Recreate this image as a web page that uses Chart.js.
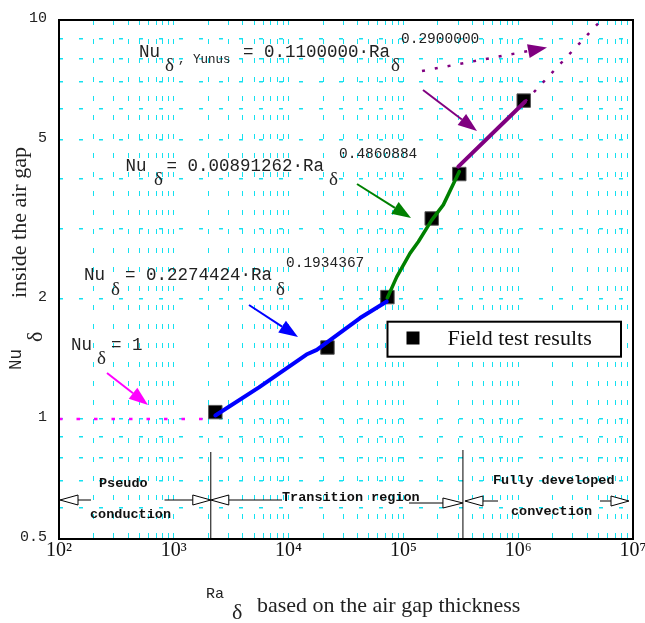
<!DOCTYPE html>
<html>
<head>
<meta charset="utf-8">
<script src="https://cdn.jsdelivr.net/npm/chart.js@4.4.1/dist/chart.umd.min.js"></script>
<style>
  html, body { margin: 0; padding: 0; background: #fff; }
  #wrap { width: 645px; height: 623px; }
</style>
</head>
<body>
<div id="wrap"><canvas id="c" width="645" height="623"></canvas></div>
<script>
// ---- data ----
const fieldRa = [2300, 21800, 72600, 176400, 306900, 1117000];
const fieldNu = [1.04, 1.51, 2.02, 3.18, 4.11, 6.28];

const conductionRa = [100, 2300];
const conductionNu = [1, 1];

const transitionRa = [2300, 5520, 14300, 17600, 41900, 71600];
const transitionNu = [1.02, 1.20, 1.45, 1.49, 1.79, 1.97];

const steepRa = [72400, 87500, 114100, 134900, 176400, 222700, 306900];
const steepNu = [2.01, 2.27, 2.60, 2.78, 3.15, 3.44, 4.17];

const yunusRa = [300800, 1146000];
const yunusNu = [4.29, 6.24];

const yunusExtRa = [1146000, 5300000];
const yunusExtNu = [6.24, 10];

const regionBounds = [2100, 330000];

const xTickValues = [1e2, 1e3, 1e4, 1e5, 1e6, 1e7];
const xTickLabels = ['10\u00B2', '10\u00B3', '10\u2074', '10\u2075', '10\u2076', '10\u2077'];
const yTickValues = [0.5, 1, 2, 5, 10];
const yTickLabels = ['0.5', '1', '2', '5', '10'];

const pts = (xs, ys) => xs.map((x, i) => ({ x: x, y: ys[i] }));

function logGrid(minExp, maxExp, lo, hi) {
  const out = [];
  for (let e = minExp; e <= maxExp; e++) {
    for (let k = 1; k <= 9; k++) {
      const v = k * Math.pow(10, e);
      if (v >= lo * 0.999 && v <= hi * 1.001) out.push({ value: v });
    }
  }
  return out;
}
function labelFor(values, labels, v) {
  for (let i = 0; i < values.length; i++) {
    if (Math.abs(values[i] - v) / values[i] < 1e-6) return labels[i];
  }
  return '';
}

const MONO = '"Liberation Mono", "DejaVu Sans Mono", monospace';
const SERIF = '"Liberation Serif", "DejaVu Serif", serif';

function txt(ctx, s, x, y, font, color) {
  ctx.font = font;
  ctx.fillStyle = color || '#222';
  ctx.textAlign = 'left';
  ctx.textBaseline = 'alphabetic';
  ctx.fillText(s, x, y);
}
function arrow(ctx, x1, y1, x2, y2, color, lw, dash) {
  const a = Math.atan2(y2 - y1, x2 - x1);
  const L = 19, W = 7;
  const c = Math.cos(a), s = Math.sin(a);
  const bx = x2 - L * c, by = y2 - L * s;
  ctx.save();
  ctx.strokeStyle = color;
  ctx.fillStyle = color;
  ctx.lineWidth = lw;
  ctx.setLineDash(dash || []);
  ctx.beginPath();
  ctx.moveTo(x1, y1);
  ctx.lineTo(bx, by);
  ctx.stroke();
  ctx.setLineDash([]);
  ctx.beginPath();
  ctx.moveTo(x2, y2);
  ctx.lineTo(bx - W * s, by + W * c);
  ctx.lineTo(bx + W * s, by - W * c);
  ctx.closePath();
  ctx.fill();
  ctx.restore();
}
function hollowTri(ctx, tipX, baseX, y) {
  ctx.beginPath();
  ctx.moveTo(tipX, y);
  ctx.lineTo(baseX, y - 5);
  ctx.lineTo(baseX, y + 5);
  ctx.closePath();
  ctx.fillStyle = '#fff';
  ctx.fill();
  ctx.stroke();
}
function hline(ctx, x1, x2, y) {
  ctx.beginPath();
  ctx.moveTo(x1, y);
  ctx.lineTo(x2, y);
  ctx.stroke();
}

const annotPlugin = {
  id: 'annot',
  afterDatasetsDraw(chart) {
    const ctx = chart.ctx;
    const xs = chart.scales.x;
    const area = chart.chartArea;
    ctx.save();

    // formula texts
    const F = '17.5px ' + MONO, SUP = '14.5px ' + MONO, D = '19px ' + SERIF;
    txt(ctx, 'Nu', 139, 57, F);
    txt(ctx, '\u03B4', 165, 71, D);
    txt(ctx, ', Yunus', 178, 63, '12.5px ' + MONO);
    txt(ctx, '= 0.1100000\u00B7Ra', 243, 57, F);
    txt(ctx, '\u03B4', 391, 71, D);
    txt(ctx, '0.2900000', 401, 43, SUP);

    txt(ctx, 'Nu', 125.5, 171, F);
    txt(ctx, '\u03B4', 154, 185, D);
    txt(ctx, '= 0.00891262\u00B7Ra', 166.6, 171, F);
    txt(ctx, '\u03B4', 329, 185, D);
    txt(ctx, '0.4860884', 339, 158, SUP);

    txt(ctx, 'Nu', 84, 280, F);
    txt(ctx, '\u03B4', 111, 295, D);
    txt(ctx, '= 0.2274424\u00B7Ra', 125, 280, F);
    txt(ctx, '\u03B4', 276, 295, D);
    txt(ctx, '0.1934367', 286, 267, SUP);

    txt(ctx, 'Nu', 71, 350, F);
    txt(ctx, '\u03B4', 97, 364, D);
    txt(ctx, '= 1', 111, 350, F);

    // arrows
    arrow(ctx, 107, 373, 148, 405, '#ff00ff', 2);
    arrow(ctx, 249, 305, 298, 337, '#0000ff', 2);
    arrow(ctx, 357, 184, 411, 218, '#008000', 2);
    arrow(ctx, 423, 90, 477, 131, '#800080', 2);
    arrow(ctx, 422, 71, 547, 47.5, '#800080', 2.5, [3, 10]);

    // legend
    ctx.fillStyle = '#fff';
    ctx.fillRect(387.5, 321.7, 233.5, 35);
    ctx.strokeStyle = '#000';
    ctx.lineWidth = 2;
    ctx.strokeRect(387.5, 321.7, 233.5, 35);
    ctx.fillStyle = '#000';
    ctx.fillRect(406.5, 331.5, 13, 13);
    txt(ctx, 'Field test results', 447.5, 345, '22px ' + SERIF, '#111');

    // region markers
    const b1 = xs.getPixelForValue(regionBounds[0]);
    const b2 = xs.getPixelForValue(regionBounds[1]);
    ctx.strokeStyle = '#000';
    ctx.lineWidth = 1;
    ctx.beginPath();
    ctx.moveTo(b1, 452); ctx.lineTo(b1, area.bottom);
    ctx.moveTo(b2, 450); ctx.lineTo(b2, area.bottom);
    ctx.stroke();
    hline(ctx, 78, 91, 500);
    hline(ctx, 164.5, b1 - 18, 500);
    hline(ctx, b1 + 18, 282, 500);
    hline(ctx, 409, b2 - 20, 503);
    hline(ctx, b2 + 20, 498, 501);
    hline(ctx, 600, 611, 501);
    hollowTri(ctx, area.left + 1, 78, 500);
    hollowTri(ctx, b1, b1 - 18, 500);
    hollowTri(ctx, b1, b1 + 18, 500);
    hollowTri(ctx, b2, b2 - 20, 503);
    hollowTri(ctx, b2 + 2, b2 + 20, 501);
    hollowTri(ctx, 629, 611, 501);
    const B = 'bold 13.5px ' + MONO;
    txt(ctx, 'Pseudo', 99, 487, B, '#111');
    txt(ctx, 'conduction', 90, 518, B, '#111');
    txt(ctx, 'Transition region', 282, 501, B, '#111');
    txt(ctx, 'Fully developed', 493, 484, B, '#111');
    txt(ctx, 'convection', 511, 515, B, '#111');

    ctx.restore();
  },
  afterDraw(chart) {
    const ctx = chart.ctx;
    const a = chart.chartArea;
    ctx.save();
    ctx.strokeStyle = '#000';
    ctx.lineWidth = 2;
    ctx.strokeRect(a.left, a.top, a.right - a.left, a.bottom - a.top);

    // x axis title
    txt(ctx, 'Ra', 206, 598, '15px ' + MONO, '#222');
    txt(ctx, '\u03B4', 232, 619, '22px ' + SERIF, '#222');
    txt(ctx, 'based on the air gap thickness', 257, 612, '22px ' + SERIF, '#222');

    // y axis title (rotated)
    const rot = (s, x, y, font) => {
      ctx.save();
      ctx.translate(x, y);
      ctx.rotate(-Math.PI / 2);
      txt(ctx, s, 0, 0, font, '#222');
      ctx.restore();
    };
    rot('Nu', 20.5, 370, '17.5px ' + MONO);
    rot('\u03B4', 42, 342, '22px ' + SERIF);
    rot('inside the air gap', 26, 298, '22px ' + SERIF);
    ctx.restore();
  }
};

const GRID = 'rgb(20,225,240)';

new Chart(document.getElementById('c'), {
  type: 'scatter',
  data: {
    datasets: [
      { label: 'Nu=1', data: pts(conductionRa, conductionNu), showLine: true,
        borderColor: '#ff00ff', borderWidth: 2.5, borderDash: [3.5, 14], pointRadius: 0, order: 0 },
      { label: 'transition', data: pts(transitionRa, transitionNu), showLine: true,
        borderColor: '#0000ff', borderWidth: 4, pointRadius: 0, borderCapStyle: 'round', borderJoinStyle: 'round', order: 0 },
      { label: 'steep', data: pts(steepRa, steepNu), showLine: true,
        borderColor: '#008000', borderWidth: 3.5, pointRadius: 0, borderCapStyle: 'round', borderJoinStyle: 'round', order: 0 },
      { label: 'yunus', data: pts(yunusRa, yunusNu), showLine: true,
        borderColor: '#800080', borderWidth: 4, pointRadius: 0, borderCapStyle: 'round', order: 0 },
      { label: 'yunus ext', data: pts(yunusExtRa, yunusExtNu), showLine: true,
        borderColor: '#800080', borderWidth: 2.5, borderDash: [3, 10], pointRadius: 0, order: 0 },
      { label: 'Field test results', data: pts(fieldRa, fieldNu), showLine: false,
        pointStyle: 'rect', pointRadius: 9.5, backgroundColor: '#000', borderColor: '#555', borderWidth: 1, order: 10 }
    ]
  },
  options: {
    responsive: false,
    animation: false,
    events: [],
    layout: { padding: { left: 0, right: 12, top: 20, bottom: 0 } },
    plugins: { legend: { display: false }, tooltip: { enabled: false } },
    scales: {
      x: {
        type: 'logarithmic',
        min: 100, max: 1e7,
        afterBuildTicks: (s) => { s.ticks = logGrid(2, 7, 100, 1e7); },
        afterFit: (s) => { s.height = 84; s.paddingLeft = 0; s.paddingRight = 0; },
        grid: { color: GRID, lineWidth: 1, drawTicks: false },
        border: { display: false, dash: [5, 14] },
        ticks: {
          autoSkip: false, maxRotation: 0, minRotation: 0, padding: 0,
          color: '#111',
          font: { family: SERIF, size: 20 },
          callback: (v) => labelFor(xTickValues, xTickLabels, v)
        }
      },
      y: {
        type: 'logarithmic',
        min: 0.5, max: 10,
        afterBuildTicks: (s) => { s.ticks = logGrid(-1, 1, 0.5, 10); },
        afterFit: (s) => { s.width = 59; s.paddingTop = 0; s.paddingBottom = 0; },
        grid: { color: GRID, lineWidth: 1.5, drawTicks: false },
        border: { display: false, dash: [4, 16] },
        ticks: {
          autoSkip: false, padding: 12, labelOffset: -2,
          color: '#222',
          font: { family: MONO, size: 15 },
          callback: (v) => labelFor(yTickValues, yTickLabels, v)
        }
      }
    }
  },
  plugins: [annotPlugin]
});
</script>
</body>
</html>
